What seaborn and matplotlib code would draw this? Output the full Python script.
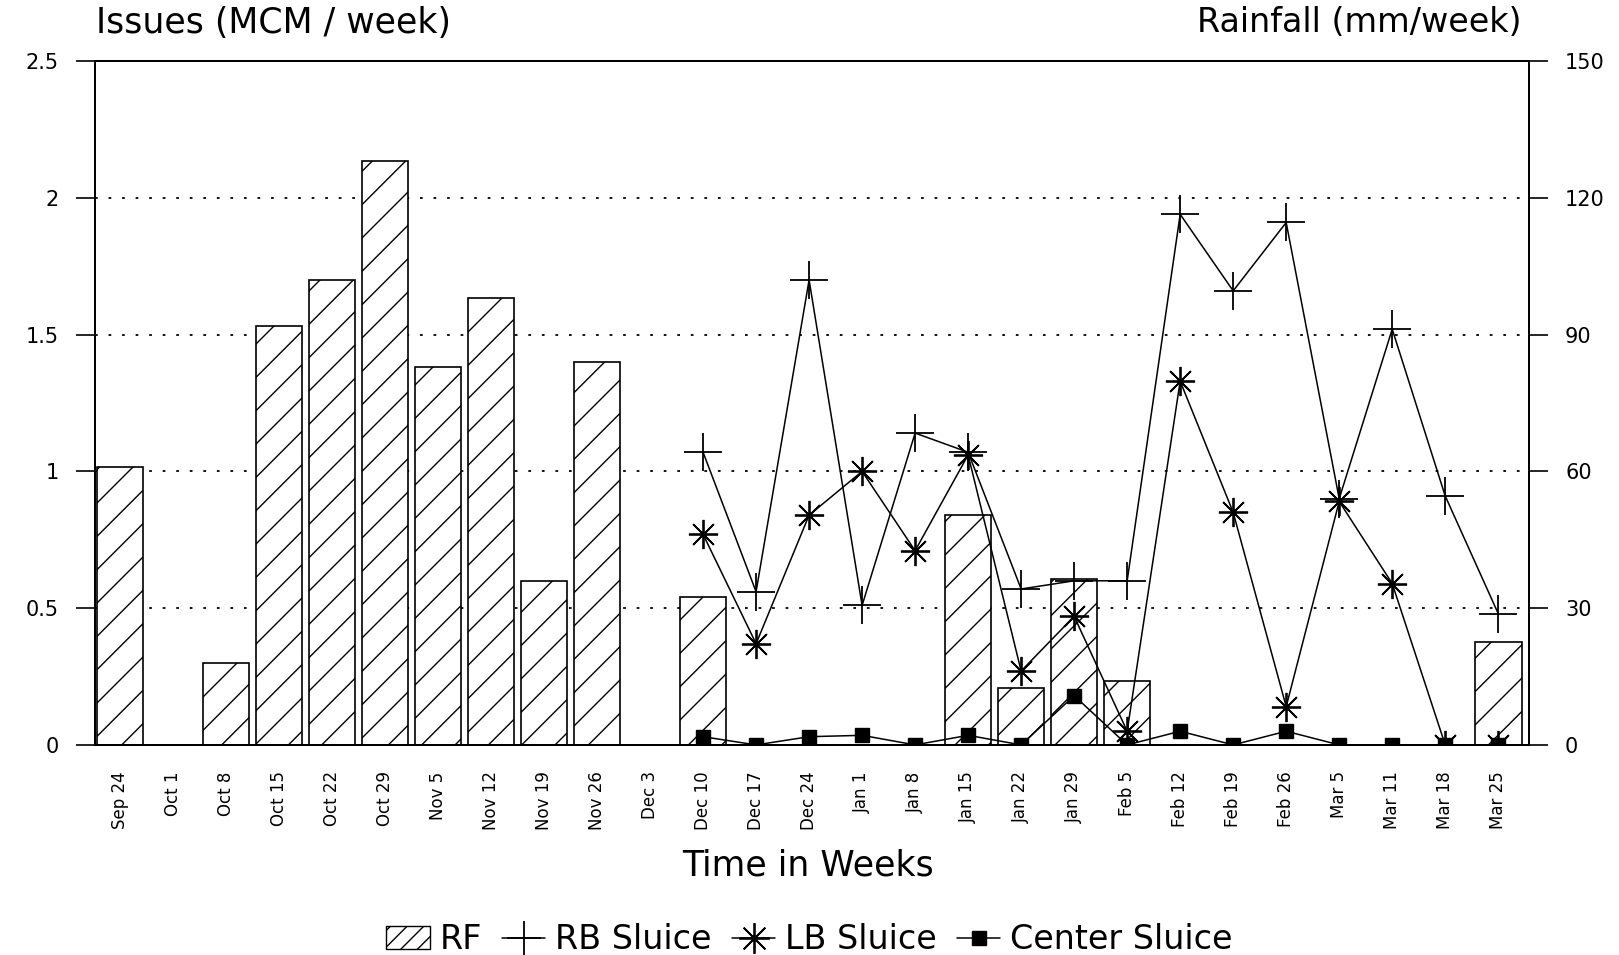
import numpy as np
import pandas as pd
import seaborn as sns
import matplotlib
matplotlib.use('Agg')
import matplotlib.pyplot as plt
from matplotlib.patches import Patch
from matplotlib.lines import Line2D

sns.set_style("white")
plt.rcParams['font.family'] = ['DejaVu Sans']
plt.rcParams['hatch.linewidth'] = 1.0
plt.rcParams.update({'text.color': 'black', 'xtick.color': 'black',
                     'ytick.color': 'black', 'axes.labelcolor': 'black'})

weeks = ['Sep 24', 'Oct 1', 'Oct 8', 'Oct 15', 'Oct 22', 'Oct 29', 'Nov 5', 'Nov 12',
         'Nov 19', 'Nov 26', 'Dec 3', 'Dec 10', 'Dec 17', 'Dec 24', 'Jan 1', 'Jan 8',
         'Jan 15', 'Jan 22', 'Jan 29', 'Feb 5', 'Feb 12', 'Feb 19', 'Feb 26', 'Mar 5',
         'Mar 11', 'Mar 18', 'Mar 25']
# rainfall, mm/week (right axis)
rainfall = [61, 0, 18, 92, 102, 128, 83, 98, 36, 84, 0, 32.5, 0, 0, 0, 0,
            50.5, 12.5, 36.5, 14, 0, 0, 0, 0, 0, 0, 22.5]

# sluice issues, MCM/week (left axis), recorded from Dec 10 on
sluice_weeks = weeks[11:]
rb_sluice = [1.07, 0.56, 1.70, 0.51, 1.14, 1.07, 0.57, 0.60, 0.60, 1.94, 1.66, 1.91,
             0.90, 1.52, 0.91, 0.48]
lb_sluice = [0.77, 0.37, 0.84, 1.00, 0.71, 1.06, 0.27, 0.47, 0.05, 1.33, 0.85, 0.14,
             0.89, 0.59, 0.0, 0.0]
center_sluice = [0.03, 0.0, 0.03, 0.035, 0.0, 0.035, 0.0, 0.18, 0.0, 0.05, 0.0, 0.05,
                 0.0, 0.0, 0.0, 0.0]

rf_df = pd.DataFrame({'week': weeks, 'rf': rainfall})
pos = [weeks.index(w) for w in sluice_weeks]
sl_df = pd.DataFrame({'pos': pos, 'rb': rb_sluice, 'lb': lb_sluice, 'center': center_sluice})

fig = plt.figure(figsize=(16.19, 9.55), dpi=100)
ax = fig.add_axes([0.0587, 0.220, 0.8857, 0.716])
ax2 = ax.twinx()

# bars: rainfall on the right axis
sns.barplot(data=rf_df, x='week', y='rf', order=weeks, ax=ax2, color='white',
            edgecolor='black', linewidth=1.2, hatch='/', width=0.88, saturation=1)
ax2.set_ylim(0, 150)
ax2.set_yticks([0, 30, 60, 90, 120, 150])
ax2.yaxis.grid(True, linestyle=(0, (1.5, 6)), color='black', linewidth=1.3)
ax2.set_axisbelow(True)
ax2.set_xlabel('')
ax2.set_ylabel('')

# sluice lines on the left axis
asterisk = (8, 2, 0)
line_kw = dict(color='black', linewidth=1.1, markeredgecolor='black', markerfacecolor='black')
sns.lineplot(data=sl_df, x='pos', y='rb', ax=ax, marker='+', markersize=27,
             markeredgewidth=1.3, **line_kw)
sns.lineplot(data=sl_df, x='pos', y='lb', ax=ax, marker=asterisk, markersize=21,
             markeredgewidth=1.3, **line_kw)
sns.lineplot(data=sl_df, x='pos', y='center', ax=ax, marker='s', markersize=10,
             markeredgewidth=1.0, **line_kw)

ax.set_zorder(ax2.get_zorder() + 1)
ax.patch.set_visible(False)

ax.set_ylim(0, 2.5)
ax.set_yticks([0, 0.5, 1, 1.5, 2, 2.5])
ax.set_yticklabels(['0', '0.5', '1', '1.5', '2', '2.5'])
ax.set_xlim(-0.47, 26.58)
ax.set_xticks(range(len(weeks)))
ax.set_xticklabels(weeks, rotation=90)
ax.set_xlabel('')
ax.set_ylabel('')

for a in (ax, ax2):
    for s in a.spines.values():
        s.set_color('black')
        s.set_linewidth(1.3)
ax.tick_params(axis='y', direction='out', length=14, width=1.2, labelsize=15, pad=12)
ax.tick_params(axis='x', direction='out', length=13, width=1.0, labelsize=12, pad=6)
ax2.tick_params(axis='y', direction='out', length=14, width=1.2, labelsize=15, pad=12)

fig.text(0.059, 0.976, 'Issues (MCM / week)', fontsize=25, va='center', ha='left')
fig.text(0.9395, 0.976, 'Rainfall (mm/week)', fontsize=24, va='center', ha='right')
fig.text(0.499, 0.094, 'Time in Weeks', fontsize=25, va='center', ha='center')

handles = [
    Patch(facecolor='white', edgecolor='black', hatch='//', label='RF'),
    Line2D([], [], color='black', linewidth=1.1, marker='+', markersize=24,
           markeredgewidth=1.3, label='RB Sluice'),
    Line2D([], [], color='black', linewidth=1.1, marker=asterisk, markersize=22,
           markeredgewidth=1.3, label='LB Sluice'),
    Line2D([], [], color='black', linewidth=1.1, marker='s', markersize=10,
           label='Center Sluice'),
]
fig.legend(handles=handles, loc='center', bbox_to_anchor=(0.5, 0.016), ncol=4,
           frameon=False, fontsize=24, handlelength=1.3, handletextpad=0.3,
           columnspacing=0.6)

plt.savefig('out.png', dpi=100)
